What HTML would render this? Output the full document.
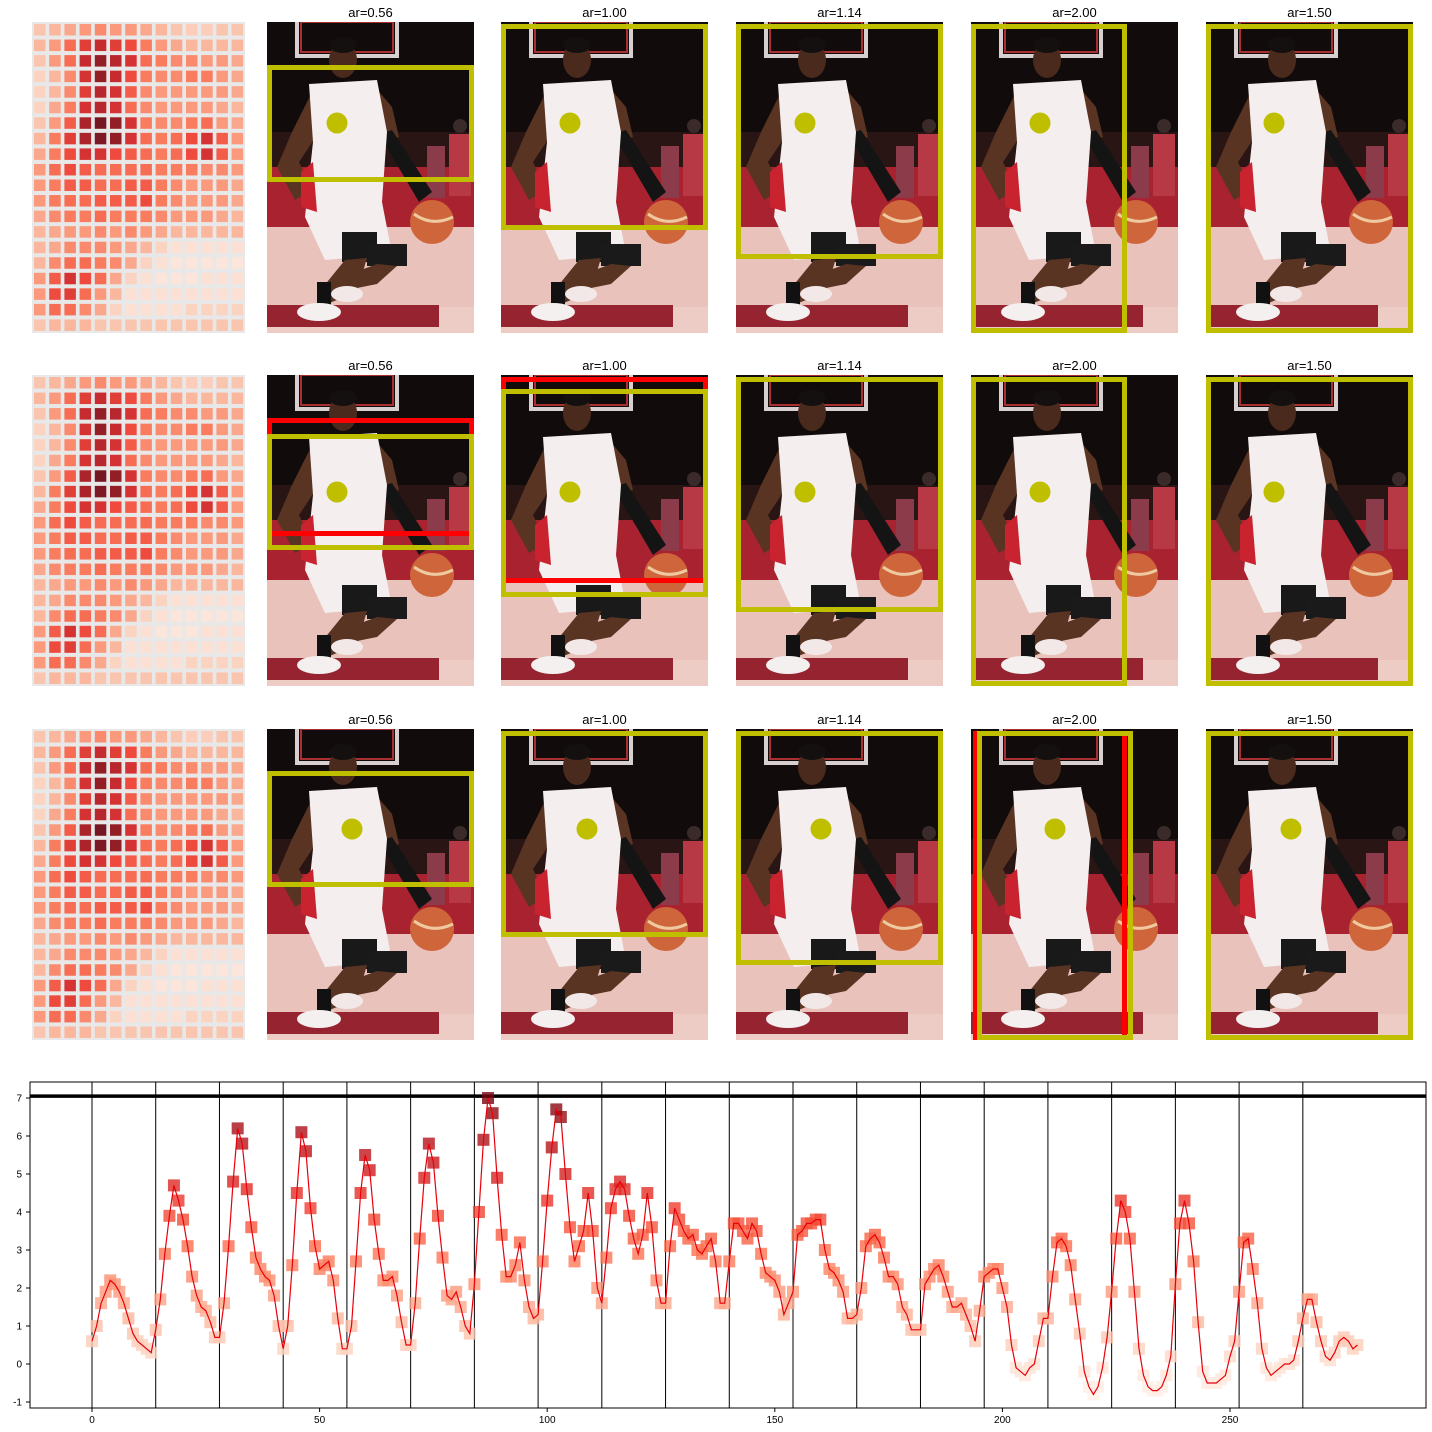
<!DOCTYPE html>
<html><head><meta charset="utf-8"><style>
html,body{margin:0;padding:0;background:#fff;}
svg{display:block;font-family:"Liberation Sans",sans-serif;}
</style></head><body>
<svg id="root" width="1432" height="1432" viewBox="0 0 1432 1432" xmlns="http://www.w3.org/2000/svg">
<defs>
<symbol id="photo" viewBox="0 0 207 311">
  <rect x="0" y="0" width="207" height="311" fill="#ecccc4"/>
  <rect x="0" y="0" width="207" height="160" fill="#110b0b"/>
  <rect x="0" y="110" width="207" height="50" fill="#2a1515"/>
  <rect x="30" y="-4" width="100" height="38" fill="none" stroke="#d8d0d0" stroke-width="4"/>
  <rect x="34" y="0" width="92" height="30" fill="none" stroke="#a83030" stroke-width="2"/>
  <rect x="0" y="145" width="207" height="70" fill="#a8232f"/>
  <rect x="0" y="205" width="207" height="80" fill="#e9c3bb"/>
  <rect x="0" y="283" width="172" height="22" fill="#962430"/>
  <rect x="182" y="112" width="22" height="62" fill="#b73945"/>
  <circle cx="193" cy="104" r="7" fill="#3a2a2a"/>
  <rect x="160" y="124" width="18" height="52" fill="#8c3b4a"/>
  <polygon points="45,70 25,110 10,145 28,178 45,168 32,140 52,110" fill="#5a3423"/>
  <polygon points="108,65 125,85 132,115 118,120 110,95" fill="#5a3423"/>
  <polygon points="112,112 125,108 165,170 152,180" fill="#141414"/>
  <polygon points="42,62 110,58 120,110 115,180 125,232 58,238 38,195 46,120" fill="#f4eeee"/>
  <polygon points="34,150 46,140 50,190 34,185" fill="#c8232f"/>
  <rect x="75" y="210" width="35" height="30" fill="#191919"/>
  <rect x="100" y="222" width="40" height="22" fill="#1a1a1a"/>
  <polygon points="78,238 100,236 90,270 60,282 52,270" fill="#5a3423"/>
  <polygon points="110,242 130,244 110,262 80,268 75,255" fill="#5a3423"/>
  <rect x="50" y="260" width="14" height="24" fill="#111"/>
  <ellipse cx="52" cy="290" rx="22" ry="9" fill="#f4f0f0"/>
  <ellipse cx="80" cy="272" rx="16" ry="8" fill="#f2e8e8"/>
  <ellipse cx="76" cy="38" rx="14" ry="18" fill="#4a2a1c"/>
  <ellipse cx="76" cy="23" rx="14" ry="8" fill="#151010"/>
  <circle cx="165" cy="200" r="22" fill="#cf653a"/>
  <path d="M147,192 Q165,205 186,195" stroke="#efc9a0" stroke-width="3" fill="none"/>
</symbol>
</defs>
<g id="panels"></g>
<g id="chart"></g>
</svg>
<script>
// ---------- chart data ----------
const values = [
0.6,1.0,1.6,1.9,2.2,2.1,1.9,1.6,1.2,0.8,0.6,0.5,0.4,0.3,
0.9,1.7,2.9,3.9,4.7,4.3,3.8,3.1,2.3,1.8,1.5,1.4,1.1,0.7,
0.7,1.6,3.1,4.8,6.2,5.8,4.6,3.6,2.8,2.5,2.3,2.2,1.8,1.0,
0.4,1.0,2.6,4.5,6.1,5.6,4.1,3.1,2.5,2.6,2.7,2.2,1.2,0.4,
0.4,1.0,2.7,4.5,5.5,5.1,3.8,2.9,2.2,2.2,2.3,1.8,1.1,0.5,
0.5,1.6,3.3,4.9,5.8,5.3,3.9,2.8,1.8,1.7,1.9,1.5,1.0,0.8,
2.1,4.0,5.9,7.0,6.6,4.9,3.4,2.3,2.3,2.6,3.2,2.2,1.5,1.2,
1.3,2.7,4.3,5.7,6.7,6.5,5.0,3.6,2.7,3.1,3.5,4.5,3.5,2.0,
1.6,2.8,4.1,4.6,4.8,4.6,3.9,3.3,2.9,3.4,4.5,3.6,2.2,1.6,
1.6,3.1,4.1,3.8,3.5,3.3,3.4,3.0,2.9,3.1,3.3,2.7,1.6,1.6,
2.7,3.7,3.7,3.5,3.3,3.7,3.5,2.9,2.4,2.3,2.2,1.9,1.3,1.6,
1.9,3.4,3.5,3.7,3.7,3.8,3.8,3.0,2.5,2.4,2.2,1.9,1.2,1.2,
1.3,2.0,3.1,3.3,3.4,3.2,2.8,2.3,2.3,2.1,1.5,1.3,0.9,0.9,
0.9,2.1,2.3,2.5,2.6,2.3,1.9,1.5,1.5,1.6,1.3,1.0,0.6,1.4,
2.3,2.4,2.5,2.5,2.0,1.5,0.5,-0.1,-0.2,-0.3,-0.1,0.0,0.6,1.2,
1.2,2.3,3.2,3.3,3.1,2.6,1.7,0.8,-0.2,-0.6,-0.8,-0.6,-0.1,0.7,
1.9,3.3,4.3,4.0,3.3,1.9,0.4,-0.3,-0.6,-0.7,-0.7,-0.6,-0.3,0.2,
2.1,3.7,4.3,3.7,2.7,1.1,-0.2,-0.5,-0.5,-0.5,-0.4,-0.3,0.2,0.6,
1.9,3.2,3.3,2.5,1.6,0.4,-0.1,-0.3,-0.2,-0.1,0.0,0.0,0.1,0.6,
1.2,1.7,1.7,1.1,0.6,0.2,0.1,0.3,0.6,0.7,0.6,0.4,0.5
];
const xTicks = [0,50,100,150,200,250];
const yTicks = [-1,0,1,2,3,4,5,6,7];
const segmentStarts = [0,14,28,42,56,70,84,98,112,126,140,154,168,182,196,210,224,238,252,266];
const threshold = [7.05];
const arLabels = ["ar=0.56","ar=1.00","ar=1.14","ar=2.00","ar=1.50"];
const heat = [
[.15,.2,.25,.3,.35,.3,.3,.25,.2,.15,.12,.12,.15,.15],
[.2,.3,.45,.6,.7,.6,.55,.4,.3,.25,.2,.2,.2,.2],
[.15,.3,.45,.7,.85,.75,.65,.45,.4,.35,.35,.3,.3,.25],
[.1,.2,.35,.65,.85,.7,.55,.4,.35,.35,.4,.4,.3,.25],
[.1,.2,.35,.6,.75,.65,.5,.35,.3,.3,.3,.3,.3,.25],
[.1,.25,.4,.65,.75,.65,.45,.35,.3,.3,.3,.3,.25,.2],
[.15,.3,.5,.8,.95,.85,.65,.4,.35,.35,.4,.45,.3,.25],
[.2,.4,.6,.8,.9,.85,.65,.45,.4,.45,.55,.65,.5,.3],
[.25,.4,.55,.65,.65,.55,.5,.45,.4,.45,.55,.65,.5,.3],
[.3,.45,.55,.5,.45,.45,.45,.45,.4,.4,.4,.35,.35,.3],
[.3,.4,.5,.5,.45,.45,.5,.5,.4,.35,.3,.3,.3,.25],
[.3,.4,.45,.45,.5,.5,.5,.55,.4,.35,.3,.3,.3,.25],
[.25,.35,.4,.4,.45,.4,.4,.4,.35,.3,.3,.3,.25,.2],
[.2,.25,.3,.3,.35,.3,.35,.3,.25,.2,.2,.2,.2,.2],
[.2,.25,.35,.35,.35,.3,.25,.2,.1,.05,.05,.05,.05,.05],
[.2,.35,.45,.45,.4,.35,.25,.1,.05,.02,.02,.02,.02,.02],
[.3,.5,.65,.55,.45,.25,.1,.05,.02,.02,.02,.05,.05,.05],
[.3,.55,.6,.45,.3,.2,.05,.05,.05,.05,.05,.05,.05,.05],
[.3,.45,.45,.35,.25,.1,.05,.05,.05,.05,.1,.1,.1,.1],
[.15,.2,.2,.2,.15,.15,.15,.15,.15,.15,.15,.15,.15,.15]
];

const NS="http://www.w3.org/2000/svg";
function mk(parent,tag,attrs){const e=document.createElementNS(NS,tag);for(const k in attrs)e.setAttribute(k,attrs[k]);parent.appendChild(e);return e;}
const stops=[[0,[255,245,240]],[.125,[254,224,210]],[.25,[252,187,161]],[.375,[252,146,114]],[.5,[251,106,74]],[.625,[239,59,44]],[.75,[203,24,29]],[.875,[165,15,21]],[1,[103,0,13]]];
function reds(t){t=Math.max(0,Math.min(1,t));for(let i=1;i<stops.length;i++){if(t<=stops[i][0]){const a=stops[i-1],b=stops[i];const f=(t-a[0])/(b[0]-a[0]);const c=a[1].map((v,j)=>Math.round(v+(b[1][j]-v)*f));return `rgb(${c[0]},${c[1]},${c[2]})`;}}return 'rgb(103,0,13)';}

// ---------- panels ----------
const panels=document.getElementById('panels');
const rowTops=[22,375,729];
const colX=[267,501,736,971,1206];
const YEL="#bfbf00",RED="#ff0000";
const boxes=[
 [[[267,65,474,182,YEL]],[[501,24,708,230,YEL]],[[736,24,943,259,YEL]],[[971,24,1127,333,YEL]],[[1206,24,1413,333,YEL]]],
 [[[267,418,474,536,RED],[267,434,474,550,YEL]],[[501,377,708,583,RED],[501,389,708,597,YEL]],[[736,377,943,612,YEL]],[[971,377,1127,686,YEL]],[[1206,377,1413,686,YEL]]],
 [[[267,771,474,887,YEL]],[[501,731,708,937,YEL]],[[736,731,943,965,YEL]],[[973,731,1127,1040,RED],[977,731,1133,1040,YEL]],[[1206,731,1413,1040,YEL]]]
];
const dots=[[[337,123],[570,123],[805,123],[1040,123],[1274,123]],[[337,492],[570,492],[805,492],[1040,492],[1274,492]],[[352,829],[587,829],[821,829],[1055,829],[1291,829]]];
rowTops.forEach((top,r)=>{
  const hm=mk(panels,'g',{});
  
  
  mk(hm,'rect',{x:32,y:top,width:213,height:311,fill:'#e8e8e8'});
  heat.forEach((row,i)=>row.forEach((v,j)=>{
    const c=mk(hm,'rect',{x:32+2+j*15.2,y:top+2+i*15.55,width:11.5,height:11.5,fill:reds(0.08+v*1.0),'fill-opacity':0.9});
    
    
  }));
  colX.forEach((x,c)=>{
    const g=mk(panels,'g',{});
    
    
    mk(g,'use',{href:'#photo',x:x,y:top,width:207,height:311});
    const t=mk(g,'text',{x:x+103.5,y:top-5,'text-anchor':'middle','font-size':'13',fill:'#000'});
    t.textContent=arLabels[c];
    
    
    boxes[r][c].forEach(b=>{
      const rc=mk(g,'rect',{x:b[0]+2.5,y:b[1]+2.5,width:b[2]-b[0]-5,height:b[3]-b[1]-5,fill:'none',stroke:b[4],'stroke-width':5});
      
      
    });
    const d=mk(g,'circle',{cx:dots[r][c][0],cy:dots[r][c][1],r:10.5,fill:YEL});
    
    
  });
});

// ---------- line chart ----------
const ch=document.getElementById('chart');
const L=30,R=1426,T=1082,B=1408;
const xs=v=>92+v*(1230-92)/250;
const ys=v=>1364-v*38;
mk(ch,'rect',{x:L,y:T,width:R-L,height:B-T,fill:'#fff'});
segmentStarts.forEach(s=>{
  const l=mk(ch,'line',{x1:xs(s),x2:xs(s),y1:T,y2:B,stroke:'#000','stroke-width':1});
  
  
});
const th=mk(ch,'line',{x1:L,x2:R,y1:ys(threshold[0]),y2:ys(threshold[0]),stroke:'#000','stroke-width':3.5});


const mg=mk(ch,'g',{});


values.forEach((v,i)=>{
  const m=mk(mg,'rect',{x:xs(i)-6,y:ys(v)-6,width:12,height:12,fill:reds((v+1)/8.3),'fill-opacity':0.8});
  
  
});
const pl=mk(ch,'polyline',{points:values.map((v,i)=>xs(i).toFixed(1)+','+ys(v).toFixed(1)).join(' '),fill:'none',stroke:'#e8000b','stroke-width':1.2});


const fr=mk(ch,'rect',{x:L,y:T,width:R-L,height:B-T,fill:'none',stroke:'#000','stroke-width':1});


xTicks.forEach(t=>{
  mk(ch,'line',{x1:xs(t),x2:xs(t),y1:B,y2:B+4,stroke:'#000'});
  const tx=mk(ch,'text',{x:xs(t),y:B+15,'text-anchor':'middle','font-size':'10'});
  tx.textContent=t;
  
  
});
yTicks.forEach(t=>{
  mk(ch,'line',{x1:L-4,x2:L,y1:ys(t),y2:ys(t),stroke:'#000'});
  const tx=mk(ch,'text',{x:L-8,y:ys(t)+3.5,'text-anchor':'end','font-size':'10'});
  tx.textContent=t;
  
  
});
</script>
</body></html>
